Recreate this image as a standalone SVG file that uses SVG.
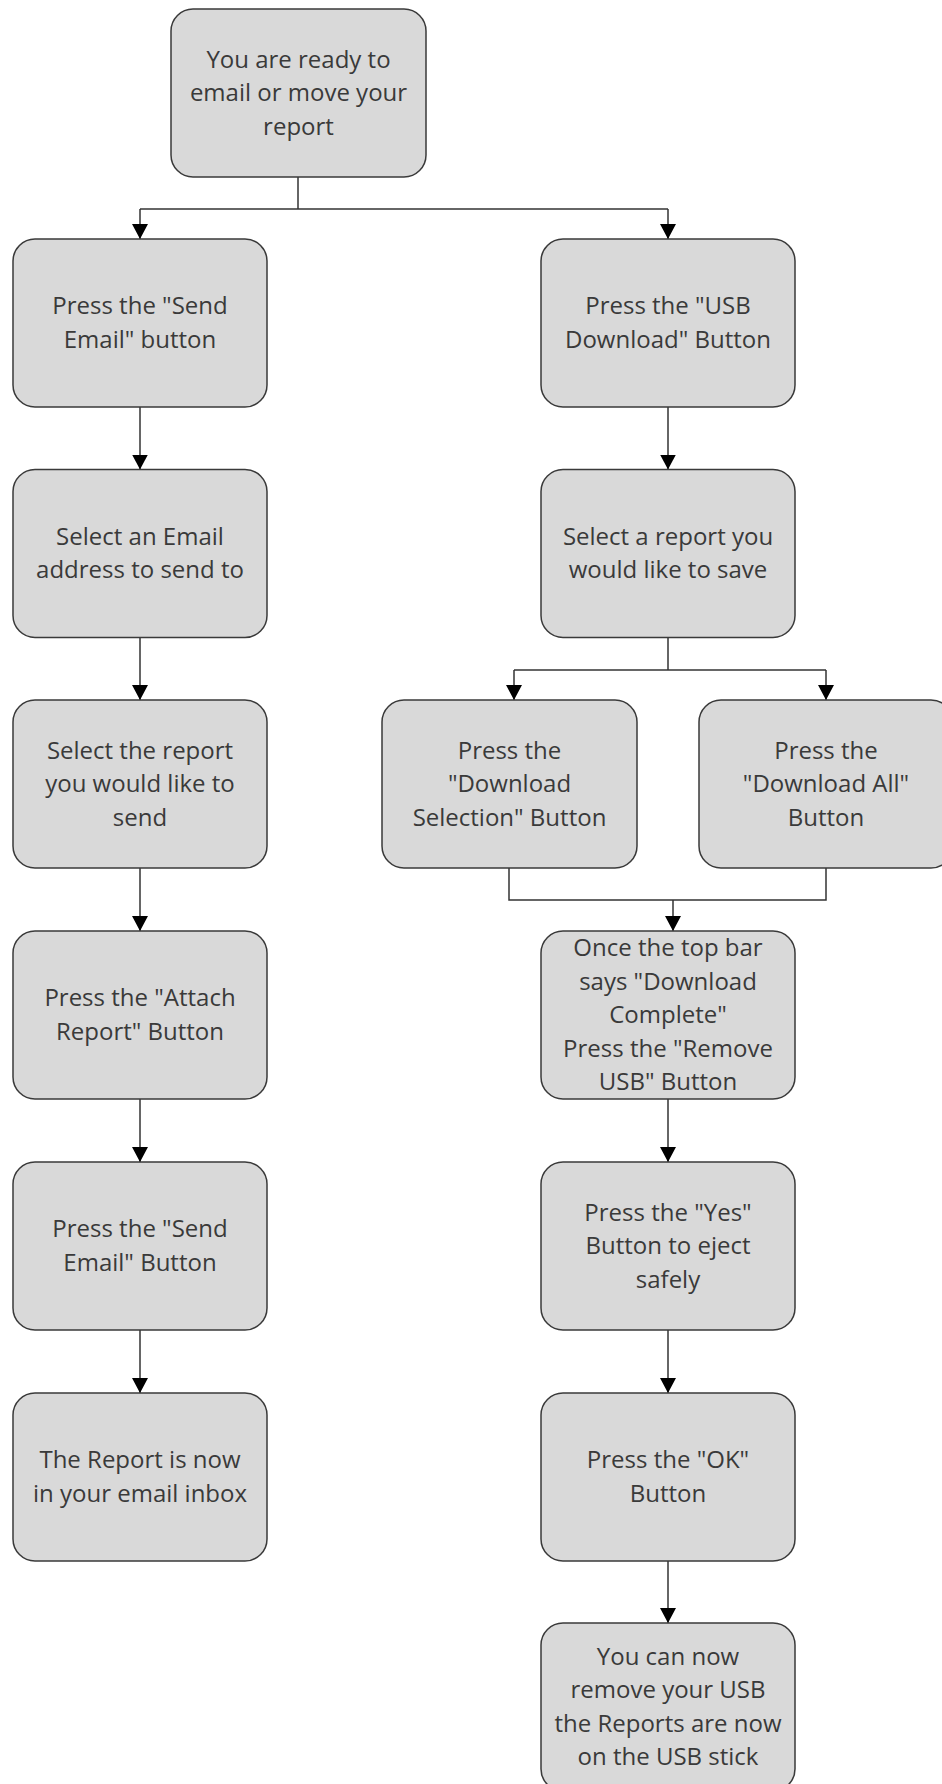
<svg xmlns="http://www.w3.org/2000/svg" width="942" height="1784" viewBox="0 0 942 1784">
<style>
.n rect{fill:#d9d9d9;stroke:#3a3a3a;stroke-width:1.5}
.n text{font-family:"Open Sans","Noto Sans","DejaVu Sans",sans-serif;font-size:24px;fill:#3a3a3a;text-anchor:middle}
.c path{fill:none;stroke:#333;stroke-width:1.5}
</style>
<defs>
<marker id="ah" markerUnits="userSpaceOnUse" markerWidth="15" markerHeight="16" refX="15" refY="8" orient="auto" viewBox="0 0 15 16">
<path d="M0,0 L15,8 L0,16 z" fill="#000"/>
</marker>
</defs>
<rect width="942" height="1784" fill="#fff"/>
<g id="connectors" class="c">
<path d="M298,177 V209"/>
<path d="M140,209 H668"/>
<path d="M140,209 V239" marker-end="url(#ah)"/>
<path d="M668,209 V239" marker-end="url(#ah)"/>
<path d="M140,407 V469.5" marker-end="url(#ah)"/>
<path d="M140,637.5 V700" marker-end="url(#ah)"/>
<path d="M140,868 V931" marker-end="url(#ah)"/>
<path d="M140,1099 V1162" marker-end="url(#ah)"/>
<path d="M140,1330 V1393" marker-end="url(#ah)"/>
<path d="M668,407 V469.5" marker-end="url(#ah)"/>
<path d="M668,637.5 V670"/>
<path d="M514,670 H826"/>
<path d="M514,670 V700" marker-end="url(#ah)"/>
<path d="M826,670 V700" marker-end="url(#ah)"/>
<path d="M509,868 V900 H826 V868"/>
<path d="M673,900 V931" marker-end="url(#ah)"/>
<path d="M668,1099 V1162" marker-end="url(#ah)"/>
<path d="M668,1330 V1393" marker-end="url(#ah)"/>
<path d="M668,1561 V1623" marker-end="url(#ah)"/>
</g>
<g id="start" class="n">
<rect x="171" y="9" width="255" height="168" rx="22"/>
<text><tspan x="298.5" y="67.5">You are ready to</tspan><tspan x="298.5" y="101">email or move your</tspan><tspan x="298.5" y="134.5">report</tspan></text>
</g>
<g id="send-email" class="n">
<rect x="13" y="239" width="254" height="168" rx="22"/>
<text><tspan x="140" y="314.3">Press the "Send</tspan><tspan x="140" y="347.8">Email" button</tspan></text>
</g>
<g id="select-email" class="n">
<rect x="13" y="469.5" width="254" height="168" rx="22"/>
<text><tspan x="140" y="544.8">Select an Email</tspan><tspan x="140" y="578.3">address to send to</tspan></text>
</g>
<g id="select-report" class="n">
<rect x="13" y="700" width="254" height="168" rx="22"/>
<text><tspan x="140" y="758.5">Select the report</tspan><tspan x="140" y="792">you would like to</tspan><tspan x="140" y="825.5">send</tspan></text>
</g>
<g id="attach" class="n">
<rect x="13" y="931" width="254" height="168" rx="22"/>
<text><tspan x="140" y="1006.3">Press the "Attach</tspan><tspan x="140" y="1039.8">Report" Button</tspan></text>
</g>
<g id="send-email-2" class="n">
<rect x="13" y="1162" width="254" height="168" rx="22"/>
<text><tspan x="140" y="1237.3">Press the "Send</tspan><tspan x="140" y="1270.8">Email" Button</tspan></text>
</g>
<g id="inbox" class="n">
<rect x="13" y="1393" width="254" height="168" rx="22"/>
<text><tspan x="140" y="1468.3">The Report is now</tspan><tspan x="140" y="1501.8">in your email inbox</tspan></text>
</g>
<g id="usb-download" class="n">
<rect x="541" y="239" width="254" height="168" rx="22"/>
<text><tspan x="668" y="314.3">Press the "USB</tspan><tspan x="668" y="347.8">Download" Button</tspan></text>
</g>
<g id="select-save" class="n">
<rect x="541" y="469.5" width="254" height="168" rx="22"/>
<text><tspan x="668" y="544.8">Select a report you</tspan><tspan x="668" y="578.3">would like to save</tspan></text>
</g>
<g id="download-selection" class="n">
<rect x="382" y="700" width="255" height="168" rx="22"/>
<text><tspan x="509.5" y="758.5">Press the</tspan><tspan x="509.5" y="792">"Download</tspan><tspan x="509.5" y="825.5">Selection" Button</tspan></text>
</g>
<g id="download-all" class="n">
<rect x="699" y="700" width="254" height="168" rx="22"/>
<text><tspan x="826" y="758.5">Press the</tspan><tspan x="826" y="792">"Download All"</tspan><tspan x="826" y="825.5">Button</tspan></text>
</g>
<g id="remove-usb" class="n">
<rect x="541" y="931" width="254" height="168" rx="22"/>
<text><tspan x="668" y="956">Once the top bar</tspan><tspan x="668" y="989.5">says "Download</tspan><tspan x="668" y="1023">Complete"</tspan><tspan x="668" y="1056.5">Press the "Remove</tspan><tspan x="668" y="1090">USB" Button</tspan></text>
</g>
<g id="yes" class="n">
<rect x="541" y="1162" width="254" height="168" rx="22"/>
<text><tspan x="668" y="1220.5">Press the "Yes"</tspan><tspan x="668" y="1254">Button to eject</tspan><tspan x="668" y="1287.5">safely</tspan></text>
</g>
<g id="ok" class="n">
<rect x="541" y="1393" width="254" height="168" rx="22"/>
<text><tspan x="668" y="1468.3">Press the "OK"</tspan><tspan x="668" y="1501.8">Button</tspan></text>
</g>
<g id="done" class="n">
<rect x="541" y="1623" width="254" height="168" rx="22"/>
<text><tspan x="668" y="1664.8">You can now</tspan><tspan x="668" y="1698.3">remove your USB</tspan><tspan x="668" y="1731.8">the Reports are now</tspan><tspan x="668" y="1765.3">on the USB stick</tspan></text>
</g>
</svg>
